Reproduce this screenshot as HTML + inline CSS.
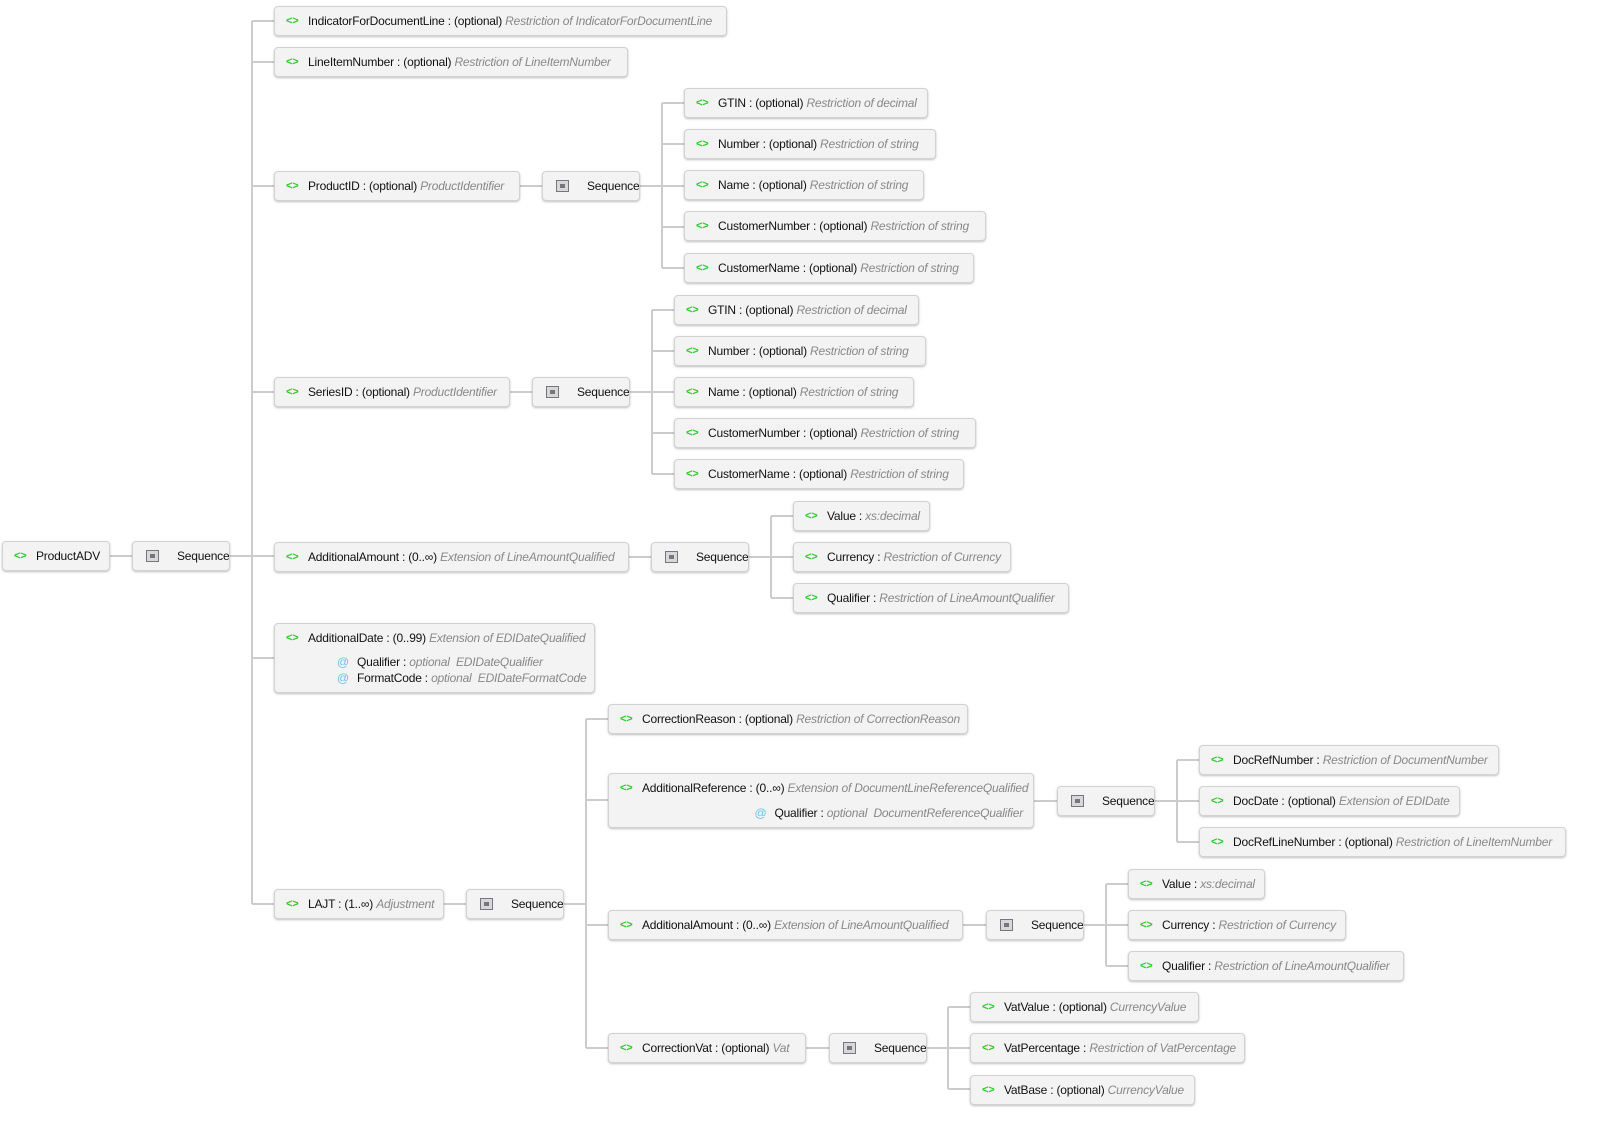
<!DOCTYPE html>
<html><head><meta charset="utf-8"><style>
body{margin:0;width:1598px;height:1131px;background:#fff;position:relative;overflow:hidden;font-family:"Liberation Sans",sans-serif;font-size:12px;color:#111;letter-spacing:-0.2px}
.n{position:absolute;height:30px;box-sizing:border-box;background:#f3f3f3;border:1px solid #d2d2d2;border-radius:4px;box-shadow:0 1px 2px rgba(0,0,0,.25);white-space:nowrap;overflow:hidden;line-height:28px}
.n .i{position:absolute;left:11px;top:0;color:#2ec82e;font-weight:bold;font-size:11px}
.n .t{position:absolute;left:33px;top:0}
.n em{color:#888}
.s .q{position:absolute;left:13px;top:8px;width:13px;height:12px;border:1px solid #777;background:#d8d8dc;box-sizing:border-box}
.s .q:after{content:"";position:absolute;left:3px;top:3px;width:5px;height:4px;background:#777}
.s .t{left:44px}
.a{position:absolute;white-space:nowrap;line-height:16px}
.a b{color:#6cc0f0;font-weight:normal;margin-right:8px}
</style></head><body>
<svg width="1598" height="1131" style="position:absolute;left:0;top:0" fill="none" stroke="#ccc" stroke-width="2">
<path d="M110 556H132M230 556H274M252 21V904M252 21H274M252 62H274M252 186H274M252 392H274M252 658H274M252 904H274"/>
<path d="M520 186H542M640 186H684M662 103V268M662 103H684M662 144H684M662 227H684M662 268H684"/>
<path d="M510 392H532M630 392H674M652 310V474M652 310H674M652 351H674M652 433H674M652 474H674"/>
<path d="M629 557H651M749 557H793M771 516V598M771 516H793M771 598H793"/>
<path d="M444 904H466M564 904H586M586 719V1048M586 719H608M586 800H608M586 925H608M586 1048H608"/>
<path d="M1034 801H1057M1155 801H1199M1177 760V842M1177 760H1199M1177 842H1199"/>
<path d="M963 925H986M1084 925H1128M1106 884V966M1106 884H1128M1106 966H1128"/>
<path d="M806 1048H829M927 1048H970M948 1007V1089M948 1007H970M948 1089H970"/>
</svg>

<div class="n" style="left:2px;top:541px;width:108px"><span class="i">&lt;&gt;</span><span class="t">ProductADV</span></div>
<div class="n s" style="left:132px;top:541px;width:98px"><span class="q"></span><span class="t">Sequence</span></div>

<div class="n" style="left:274px;top:6px;width:453px"><span class="i">&lt;&gt;</span><span class="t">IndicatorForDocumentLine : (optional) <em>Restriction of IndicatorForDocumentLine</em></span></div>
<div class="n" style="left:274px;top:47px;width:354px"><span class="i">&lt;&gt;</span><span class="t">LineItemNumber : (optional) <em>Restriction of LineItemNumber</em></span></div>

<div class="n" style="left:274px;top:171px;width:246px"><span class="i">&lt;&gt;</span><span class="t">ProductID : (optional) <em>ProductIdentifier</em></span></div>
<div class="n s" style="left:542px;top:171px;width:98px"><span class="q"></span><span class="t">Sequence</span></div>
<div class="n" style="left:684px;top:88px;width:244px"><span class="i">&lt;&gt;</span><span class="t">GTIN : (optional) <em>Restriction of decimal</em></span></div>
<div class="n" style="left:684px;top:129px;width:252px"><span class="i">&lt;&gt;</span><span class="t">Number : (optional) <em>Restriction of string</em></span></div>
<div class="n" style="left:684px;top:170px;width:240px"><span class="i">&lt;&gt;</span><span class="t">Name : (optional) <em>Restriction of string</em></span></div>
<div class="n" style="left:684px;top:211px;width:302px"><span class="i">&lt;&gt;</span><span class="t">CustomerNumber : (optional) <em>Restriction of string</em></span></div>
<div class="n" style="left:684px;top:253px;width:290px"><span class="i">&lt;&gt;</span><span class="t">CustomerName : (optional) <em>Restriction of string</em></span></div>

<div class="n" style="left:274px;top:377px;width:236px"><span class="i">&lt;&gt;</span><span class="t">SeriesID : (optional) <em>ProductIdentifier</em></span></div>
<div class="n s" style="left:532px;top:377px;width:98px"><span class="q"></span><span class="t">Sequence</span></div>
<div class="n" style="left:674px;top:295px;width:245px"><span class="i">&lt;&gt;</span><span class="t">GTIN : (optional) <em>Restriction of decimal</em></span></div>
<div class="n" style="left:674px;top:336px;width:252px"><span class="i">&lt;&gt;</span><span class="t">Number : (optional) <em>Restriction of string</em></span></div>
<div class="n" style="left:674px;top:377px;width:240px"><span class="i">&lt;&gt;</span><span class="t">Name : (optional) <em>Restriction of string</em></span></div>
<div class="n" style="left:674px;top:418px;width:302px"><span class="i">&lt;&gt;</span><span class="t">CustomerNumber : (optional) <em>Restriction of string</em></span></div>
<div class="n" style="left:674px;top:459px;width:290px"><span class="i">&lt;&gt;</span><span class="t">CustomerName : (optional) <em>Restriction of string</em></span></div>

<div class="n" style="left:274px;top:542px;width:355px"><span class="i">&lt;&gt;</span><span class="t">AdditionalAmount : (0..∞) <em>Extension of LineAmountQualified</em></span></div>
<div class="n s" style="left:651px;top:542px;width:98px"><span class="q"></span><span class="t">Sequence</span></div>
<div class="n" style="left:793px;top:501px;width:137px"><span class="i">&lt;&gt;</span><span class="t">Value : <em>xs:decimal</em></span></div>
<div class="n" style="left:793px;top:542px;width:218px"><span class="i">&lt;&gt;</span><span class="t">Currency : <em>Restriction of Currency</em></span></div>
<div class="n" style="left:793px;top:583px;width:276px"><span class="i">&lt;&gt;</span><span class="t">Qualifier : <em>Restriction of LineAmountQualifier</em></span></div>

<div class="n" style="left:274px;top:623px;width:321px;height:70px"><span class="i">&lt;&gt;</span><span class="t">AdditionalDate : (0..99) <em>Extension of EDIDateQualified</em></span>
<div class="a" style="left:62px;top:30px"><b>@</b>Qualifier : <em>optional&nbsp; EDIDateQualifier</em></div>
<div class="a" style="left:62px;top:46px"><b>@</b>FormatCode : <em>optional&nbsp; EDIDateFormatCode</em></div></div>

<div class="n" style="left:274px;top:889px;width:170px"><span class="i">&lt;&gt;</span><span class="t">LAJT : (1..∞) <em>Adjustment</em></span></div>
<div class="n s" style="left:466px;top:889px;width:98px"><span class="q"></span><span class="t">Sequence</span></div>
<div class="n" style="left:608px;top:704px;width:360px"><span class="i">&lt;&gt;</span><span class="t">CorrectionReason : (optional) <em>Restriction of CorrectionReason</em></span></div>
<div class="n" style="left:608px;top:773px;width:426px;height:55px"><span class="i">&lt;&gt;</span><span class="t">AdditionalReference : (0..∞) <em>Extension of DocumentLineReferenceQualified</em></span>
<div class="a" style="right:10px;top:31px"><b>@</b>Qualifier : <em>optional&nbsp; DocumentReferenceQualifier</em></div></div>
<div class="n s" style="left:1057px;top:786px;width:98px"><span class="q"></span><span class="t">Sequence</span></div>
<div class="n" style="left:1199px;top:745px;width:300px"><span class="i">&lt;&gt;</span><span class="t">DocRefNumber : <em>Restriction of DocumentNumber</em></span></div>
<div class="n" style="left:1199px;top:786px;width:261px"><span class="i">&lt;&gt;</span><span class="t">DocDate : (optional) <em>Extension of EDIDate</em></span></div>
<div class="n" style="left:1199px;top:827px;width:367px"><span class="i">&lt;&gt;</span><span class="t">DocRefLineNumber : (optional) <em>Restriction of LineItemNumber</em></span></div>

<div class="n" style="left:608px;top:910px;width:355px"><span class="i">&lt;&gt;</span><span class="t">AdditionalAmount : (0..∞) <em>Extension of LineAmountQualified</em></span></div>
<div class="n s" style="left:986px;top:910px;width:98px"><span class="q"></span><span class="t">Sequence</span></div>
<div class="n" style="left:1128px;top:869px;width:137px"><span class="i">&lt;&gt;</span><span class="t">Value : <em>xs:decimal</em></span></div>
<div class="n" style="left:1128px;top:910px;width:218px"><span class="i">&lt;&gt;</span><span class="t">Currency : <em>Restriction of Currency</em></span></div>
<div class="n" style="left:1128px;top:951px;width:276px"><span class="i">&lt;&gt;</span><span class="t">Qualifier : <em>Restriction of LineAmountQualifier</em></span></div>

<div class="n" style="left:608px;top:1033px;width:198px"><span class="i">&lt;&gt;</span><span class="t">CorrectionVat : (optional) <em>Vat</em></span></div>
<div class="n s" style="left:829px;top:1033px;width:98px"><span class="q"></span><span class="t">Sequence</span></div>
<div class="n" style="left:970px;top:992px;width:229px"><span class="i">&lt;&gt;</span><span class="t">VatValue : (optional) <em>CurrencyValue</em></span></div>
<div class="n" style="left:970px;top:1033px;width:275px"><span class="i">&lt;&gt;</span><span class="t">VatPercentage : <em>Restriction of VatPercentage</em></span></div>
<div class="n" style="left:970px;top:1075px;width:225px"><span class="i">&lt;&gt;</span><span class="t">VatBase : (optional) <em>CurrencyValue</em></span></div>
</body></html>
